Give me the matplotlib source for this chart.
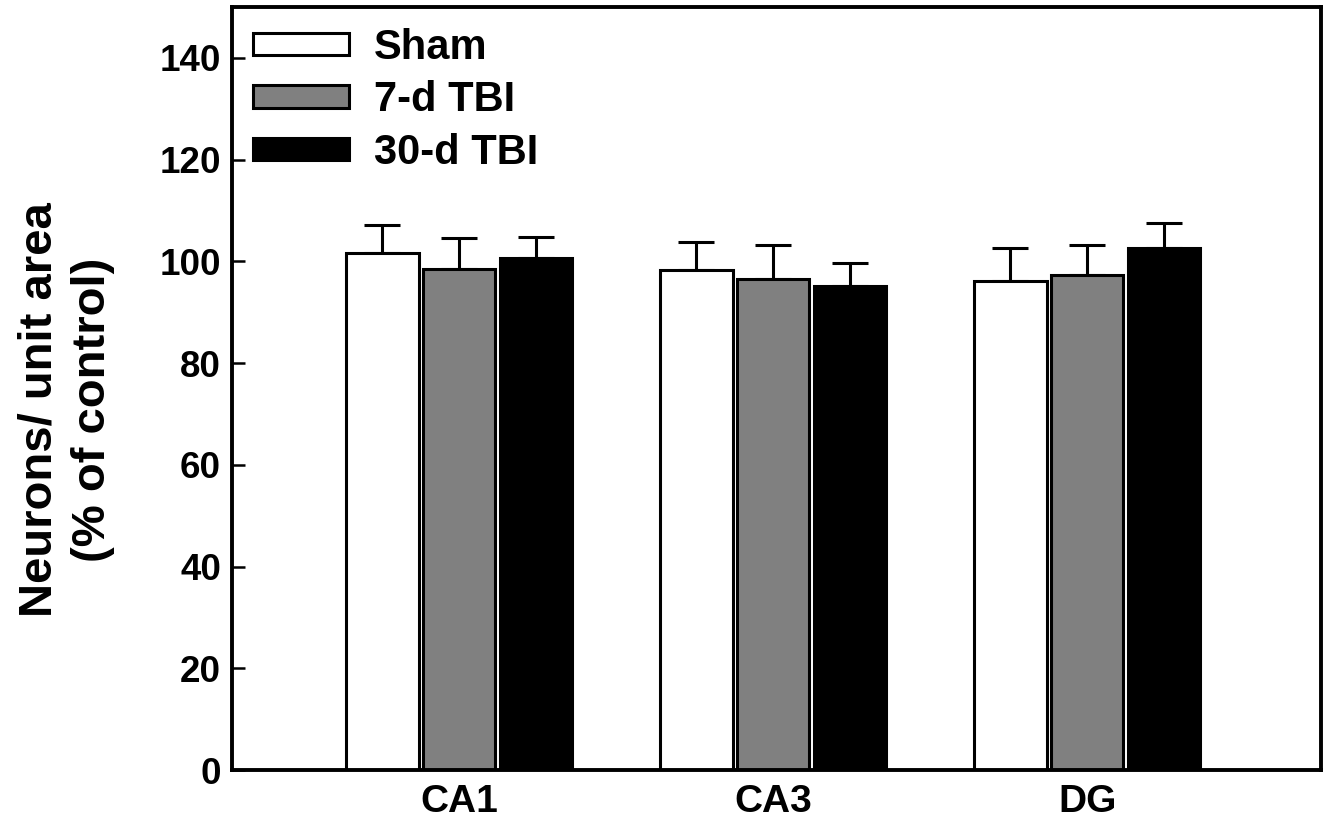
import matplotlib
matplotlib.use("Agg")
import matplotlib.pyplot as plt
import numpy as np

plt.rcParams['font.family'] = ['Liberation Sans', 'DejaVu Sans']
plt.rcParams['font.weight'] = 'bold'

regions = ["CA1", "CA3", "DG"]
groups = ["Sham", "7-d TBI", "30-d TBI"]

sham = [101.6, 98.3, 96.1]
sham_err = [5.6, 5.5, 6.5]
tbi7 = [98.5, 96.5, 97.3]
tbi7_err = [6.1, 6.7, 5.9]
tbi30 = [100.7, 95.2, 102.6]
tbi30_err = [4.1, 4.5, 4.9]

colors = ["white", "#808080", "black"]

fig = plt.figure(figsize=(13.31, 8.24), dpi=100)
ax = fig.add_axes([0.1743, 0.0655, 0.9925 - 0.1743, 0.9915 - 0.0655])

x = np.arange(len(regions))
width = 0.232
offset = 0.245

for i, (vals, errs) in enumerate([(sham, sham_err), (tbi7, tbi7_err), (tbi30, tbi30_err)]):
    pos = x + (i - 1) * offset
    ax.bar(pos, vals, width, color=colors[i], edgecolor="black", linewidth=2.2,
           label=groups[i], zorder=2)
    ax.errorbar(pos, vals, yerr=[np.zeros(3), errs], fmt="none", ecolor="black",
                elinewidth=2.2, capsize=13, capthick=2.2, zorder=1)

ax.set_xlim(-0.723, 2.745)
ax.set_ylim(0, 150)
ax.set_yticks(np.arange(0, 141, 20))
ax.set_xticks(x)
ax.set_xticklabels(regions)
ax.tick_params(axis="y", direction="in", length=9.5, width=1.8, labelsize=26.5, pad=8)
ax.tick_params(axis="x", length=0, labelsize=28, pad=10)
for s in ax.spines.values():
    s.set_linewidth(2.8)

ax.set_ylabel("Neurons/ unit area\n(% of control)", fontsize=34, fontweight="bold",
              linespacing=1.3)
ax.yaxis.set_label_coords(-0.107, 0.472)

ax.legend(loc="upper left", frameon=False, fontsize=30, handlelength=2.3,
          handleheight=0.45, labelspacing=0.3, handletextpad=0.6,
          borderaxespad=0.2, borderpad=0.3)

fig.savefig("out.png", dpi=100)
